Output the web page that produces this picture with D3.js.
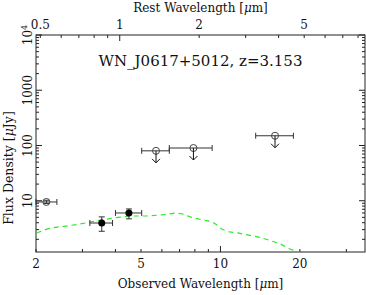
<!DOCTYPE html>
<html>
<head>
<meta charset="utf-8">
<script src="https://cdn.jsdelivr.net/npm/d3@7"></script>
<style>
  body { margin: 0; background: #fff; }
  text { font-family: "DejaVu Serif", serif; fill: #111; }
</style>
</head>
<body>
<div id="chart"></div>
<script>
var margin = { top: 35, right: 1, bottom: 43, left: 36 },
    width = 366 - margin.left - margin.right,
    height = 295 - margin.top - margin.bottom;

var redshift = 3.153;
var title = "WN_J0617+5012, z=3.153";

// template SED (green dashed), observed wavelength [um] / flux [uJy]
var sedWave = [2.01, 2.26, 2.54, 2.94, 3.40, 3.93, 4.54, 5.25, 6.07, 6.72, 7.13, 7.78, 8.49,
               9.26, 9.67, 10.1, 10.67, 11.65, 12.93, 14.1, 15.4, 16.8, 18.3, 20.0];
var sedFlux = [2.61, 3.21, 3.43, 3.79, 4.35, 4.87, 5.29, 5.29, 5.58, 5.99, 5.82, 4.99, 4.53,
               4.22, 3.68, 3.08, 2.75, 2.61, 2.36, 2.17, 1.91, 1.67, 1.34, 1.16];

// photometry
var detWave = [3.55, 4.5];
var detFlux = [3.95, 6.0];
var detWaveLo = [3.2, 4.0];
var detWaveHi = [3.9, 5.03];
var detFluxLo = [2.8, 4.7];
var detFluxHi = [5.1, 7.1];

var openWave = [2.19];
var openFlux = [9.5];
var openWaveLo = [2.0];
var openWaveHi = [2.4];
var openFluxLo = [8.9];
var openFluxHi = [10.2];

var limWave = [5.7, 7.9, 16.1];
var limFlux = [80, 90, 150];
var limWaveLo = [5.03, 6.4, 13.6];
var limWaveHi = [6.4, 9.3, 18.9];

var xTicks = [2, 5, 10, 20];
var restTicks = [0.5, 1, 2, 5];
var yTicks = [10, 100, 1000, 10000];

var svg = d3.select("#chart").append("svg")
    .attr("width", width + margin.left + margin.right)
    .attr("height", height + margin.top + margin.bottom);
var g = svg.append("g")
    .attr("transform", "translate(" + margin.left + "," + margin.top + ")");

var x = d3.scaleLog().domain([2, 35.3]).range([0, width]);
var xr = d3.scaleLog().domain([2 / (1 + redshift), 35.3 / (1 + redshift)]).range([0, width]);
var y = d3.scaleLog().domain([1.18, 10000]).range([height, 0]);

function minorTicks(lo, hi) {
  var out = [];
  for (var e = Math.floor(Math.log10(lo)); e <= Math.ceil(Math.log10(hi)); e++) {
    for (var m = 1; m < 10; m++) {
      var v = m * Math.pow(10, e);
      if (v >= lo && v <= hi) out.push(v);
    }
  }
  return out;
}
function isDecade(v) { return Math.abs(Math.log10(v) - Math.round(Math.log10(v))) < 1e-6; }

var tickCol = "#222";
var ticks = g.append("g").attr("stroke", tickCol).attr("stroke-width", 1);

minorTicks(2, 35.3).forEach(function (v) {
  var len = isDecade(v) ? 6 : 3;
  ticks.append("line").attr("x1", x(v)).attr("x2", x(v)).attr("y1", height).attr("y2", height - len);
});
minorTicks(xr.domain()[0], xr.domain()[1]).forEach(function (v) {
  var len = isDecade(v) ? 6 : 3;
  ticks.append("line").attr("x1", xr(v)).attr("x2", xr(v)).attr("y1", 0).attr("y2", len);
});
minorTicks(1.18, 10000).forEach(function (v) {
  var len = isDecade(v) ? 6 : 3;
  ticks.append("line").attr("x1", 0).attr("x2", len).attr("y1", y(v)).attr("y2", y(v));
  ticks.append("line").attr("x1", width).attr("x2", width - len).attr("y1", y(v)).attr("y2", y(v));
});

g.append("rect").attr("width", width).attr("height", height)
    .attr("fill", "none").attr("stroke", tickCol).attr("stroke-width", 1);

// tick labels
g.selectAll(".xl").data(xTicks).enter().append("text")
    .attr("x", function (d) { return x(d); }).attr("y", height + 16)
    .attr("text-anchor", "middle").style("font-size", "12px").text(function (d) { return d; });
g.selectAll(".rl").data(restTicks).enter().append("text")
    .attr("x", function (d) { return xr(d); }).attr("y", -6)
    .attr("text-anchor", "middle").style("font-size", "12px").text(function (d) { return d; });
g.selectAll(".yl").data(yTicks).enter().append("text")
    .attr("transform", function (d) { return "translate(-4," + y(d) + ") rotate(-90)"; })
    .attr("text-anchor", "middle").style("font-size", "12px")
    .each(function (d) {
      var t = d3.select(this);
      if (d >= 10000) {
        t.append("tspan").text("10");
        t.append("tspan").attr("dy", -5).style("font-size", "8px").text(Math.round(Math.log10(d)));
      } else {
        t.text(d);
      }
    });

// axis titles
svg.append("text").attr("x", margin.left + width / 2).attr("y", 288)
    .attr("text-anchor", "middle").style("font-size", "12px")
    .html('Observed Wavelength [<tspan font-style="italic">μ</tspan>m]');
svg.append("text").attr("x", margin.left + width / 2).attr("y", 12)
    .attr("text-anchor", "middle").style("font-size", "12px")
    .html('Rest Wavelength [<tspan font-style="italic">μ</tspan>m]');
svg.append("text").attr("transform", "translate(13,168) rotate(-90)")
    .attr("text-anchor", "middle").style("font-size", "12.5px")
    .html('Flux Density [<tspan font-style="italic">μ</tspan>Jy]');

g.append("text").attr("x", width / 2).attr("y", 31)
    .attr("text-anchor", "middle").style("font-size", "15px").text(title);

// template
var clip = g.append("clipPath").attr("id", "clip").append("rect").attr("width", width).attr("height", height);
var line = d3.line().x(function (d, i) { return x(sedWave[i]); }).y(function (d) { return y(d); });
g.append("path").datum(sedFlux).attr("clip-path", "url(#clip)")
    .attr("fill", "none").attr("stroke", "#22ee22").attr("stroke-width", 1.2)
    .attr("stroke-dasharray", "5,4").attr("d", line);

var ebCol = "#333", cap = 3;
function hbar(lo, hi, v) {
  g.append("line").attr("x1", x(lo)).attr("x2", x(hi)).attr("y1", y(v)).attr("y2", y(v)).attr("stroke", ebCol);
  [lo, hi].forEach(function (e) {
    g.append("line").attr("x1", x(e)).attr("x2", x(e)).attr("y1", y(v) - cap).attr("y2", y(v) + cap).attr("stroke", ebCol);
  });
}
function vbar(w, lo, hi) {
  g.append("line").attr("x1", x(w)).attr("x2", x(w)).attr("y1", y(lo)).attr("y2", y(hi)).attr("stroke", ebCol);
  [lo, hi].forEach(function (e) {
    g.append("line").attr("x1", x(w) - cap).attr("x2", x(w) + cap).attr("y1", y(e)).attr("y2", y(e)).attr("stroke", ebCol);
  });
}

openWave.forEach(function (w, i) {
  hbar(openWaveLo[i], openWaveHi[i], openFlux[i]);
  vbar(w, openFluxLo[i], openFluxHi[i]);
  g.append("circle").attr("cx", x(w)).attr("cy", y(openFlux[i])).attr("r", 3.5)
      .attr("fill", "none").attr("stroke", "#444");
});
detWave.forEach(function (w, i) {
  hbar(detWaveLo[i], detWaveHi[i], detFlux[i]);
  vbar(w, detFluxLo[i], detFluxHi[i]);
  g.append("circle").attr("cx", x(w)).attr("cy", y(detFlux[i])).attr("r", 3.5).attr("fill", "#000");
});
limWave.forEach(function (w, i) {
  var cx = x(w), cy = y(limFlux[i]);
  hbar(limWaveLo[i], limWaveHi[i], limFlux[i]);
  g.append("circle").attr("cx", cx).attr("cy", cy).attr("r", 3.5).attr("fill", "none").attr("stroke", "#444");
  g.append("line").attr("x1", cx).attr("x2", cx).attr("y1", cy).attr("y2", cy + 12).attr("stroke", "#111");
  g.append("path").attr("d", "M" + (cx - 4) + "," + (cy + 8) + "L" + cx + "," + (cy + 12) + "L" + (cx + 4) + "," + (cy + 8))
      .attr("fill", "none").attr("stroke", "#111");
});
</script>
</body>
</html>
